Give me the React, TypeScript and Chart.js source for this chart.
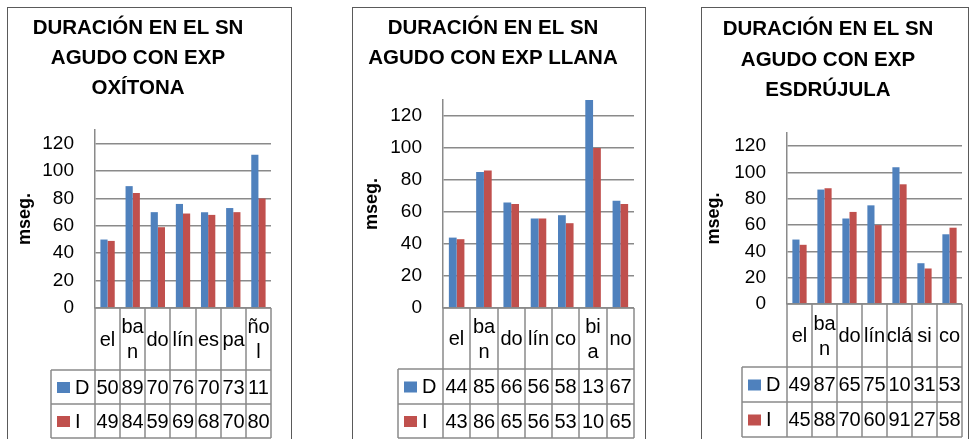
import React, { useEffect, useRef } from "react";
import { Chart, registerables } from "chart.js";
Chart.register(...registerables);

// ---------- data ----------
const seriesNames = ["D", "I"];
const seriesColors = ["#4F81BD", "#C0504D"];
const axisTitle = "mseg.";
const yMax = 130;
const yStep = 20;

const titles1 = ["DURACIÓN EN EL SN", "AGUDO CON EXP", "OXÍTONA"];
const categories1: (string | string[])[] = ["el", ["ba", "n"], "do", "lín", "es", "pa", ["ño", "l"]];
const valuesD1 = [50, 89, 70, 76, 70, 73, 112];
const valuesI1 = [49, 84, 59, 69, 68, 70, 80];

const titles2 = ["DURACIÓN EN EL SN", "AGUDO CON EXP LLANA"];
const categories2: (string | string[])[] = ["el", ["ba", "n"], "do", "lín", "co", ["bi", "a"], "no"];
const valuesD2 = [44, 85, 66, 56, 58, 130, 67];
const valuesI2 = [43, 86, 65, 56, 53, 100, 65];

const titles3 = ["DURACIÓN EN EL SN", "AGUDO CON EXP", "ESDRÚJULA"];
const categories3: (string | string[])[] = ["el", ["ba", "n"], "do", "lín", "clá", "si", "co"];
const valuesD3 = [49, 87, 65, 75, 104, 31, 53];
const valuesI3 = [45, 88, 70, 60, 91, 27, 58];

// ---------- layout (page coordinates) ----------
const FONT = "'Liberation Sans', Arial, sans-serif";
const CANVAS_TOP = 8;
const CANVAS_H = 431;

type Panel = {
  titles: string[];
  cats: (string | string[])[];
  series: number[][];
  boxL: number;
  boxR: number;
  area: { l: number; r: number; t: number; b: number };
  legendL: number;
  rows: number[];
  titleX: number;
  titleY: number[];
  yTitleX: number;
};

const panels: Panel[] = [
  {
    titles: titles1, cats: categories1, series: [valuesD1, valuesI1],
    boxL: 7, boxR: 291, area: { l: 95, r: 271, t: 130, b: 308 },
    legendL: 51, rows: [62, 34, 34], titleX: 138, titleY: [28, 58, 88], yTitleX: 25,
  },
  {
    titles: titles2, cats: categories2, series: [valuesD2, valuesI2],
    boxL: 352, boxR: 645, area: { l: 443, r: 634, t: 100, b: 308 },
    legendL: 398, rows: [61, 35, 34], titleX: 493, titleY: [28, 58], yTitleX: 372,
  },
  {
    titles: titles3, cats: categories3, series: [valuesD3, valuesI3],
    boxL: 701, boxR: 968, area: { l: 787, r: 962, t: 133, b: 304 },
    legendL: 742, rows: [63, 35, 35], titleX: 828, titleY: [29, 60, 90], yTitleX: 714,
  },
];

function fitText(ctx: CanvasRenderingContext2D, text: string, maxW: number) {
  let t = text;
  while (t.length > 1 && ctx.measureText(t).width > maxW) t = t.slice(0, -1);
  return t;
}

function PanelChart({ p }: { p: Panel }) {
  const ref = useRef<HTMLCanvasElement>(null);
  const offX = p.boxL + 1;
  const cw = p.boxR - p.boxL - 1;

  useEffect(() => {
    const canvas = ref.current!;
    const lineColor = "#8a8a8a";
    const tablePlugin = {
      id: "dataTable",
      afterDraw(chart: any) {
        const ctx: CanvasRenderingContext2D = chart.ctx;
        const xs = chart.scales.x;
        const ca = chart.chartArea;
        const n = p.cats.length;
        const colW = xs.getPixelForValue(1) - xs.getPixelForValue(0);
        const edges: number[] = [];
        for (let k = 0; k <= n; k++) edges.push(Math.round(xs.getPixelForValue(0) - colW / 2 + k * colW));
        const y0 = ca.bottom;
        const y1 = y0 + p.rows[0];
        const y2 = y1 + p.rows[1];
        const y3 = y2 + p.rows[2];
        const lx = p.legendL - offX;

        ctx.save();
        // title
        ctx.fillStyle = "#000";
        ctx.font = `bold 20.5px ${FONT}`;
        ctx.textAlign = "center";
        ctx.textBaseline = "middle";
        p.titles.forEach((t, k) => ctx.fillText(t, p.titleX - offX, p.titleY[k] - CANVAS_TOP));

        // grid lines of table
        ctx.strokeStyle = lineColor;
        ctx.lineWidth = 1.5;
        ctx.beginPath();
        edges.forEach((x) => {
          ctx.moveTo(x, y0);
          ctx.lineTo(x, y3);
        });
        ctx.moveTo(lx, y1);
        ctx.lineTo(lx, y3);
        ctx.moveTo(edges[0], y0);
        ctx.lineTo(edges[n], y0);
        [y1, y2, y3].forEach((y) => {
          ctx.moveTo(lx, y);
          ctx.lineTo(edges[n], y);
        });
        ctx.stroke();

        // category labels
        ctx.fillStyle = "#000";
        ctx.font = `20px ${FONT}`;
        ctx.textAlign = "center";
        ctx.textBaseline = "middle";
        const lh = 25;
        p.cats.forEach((c, k) => {
          const lines = Array.isArray(c) ? c : [c];
          const cx = (edges[k] + edges[k + 1]) / 2;
          const cy = (y0 + y1) / 2 + 1;
          lines.forEach((ln, j) => {
            ctx.fillText(ln, cx, cy + (j - (lines.length - 1) / 2) * lh);
          });
        });

        // value rows
        const rowsY = [[y1, y2], [y2, y3]];
        p.series.forEach((vals, s) => {
          const [ra, rb] = rowsY[s];
          const cy = (ra + rb) / 2;
          vals.forEach((v, k) => {
            const cx = (edges[k] + edges[k + 1]) / 2;
            const t = fitText(ctx, String(v), colW - 1);
            ctx.fillText(t, cx, cy + 1);
          });
          // legend key
          ctx.fillStyle = seriesColors[s];
          ctx.fillRect(lx + 6, cy - 5, 13, 11);
          ctx.fillStyle = "#000";
          ctx.textAlign = "left";
          ctx.fillText(seriesNames[s], lx + 24, cy + 1);
          ctx.textAlign = "center";
        });
        ctx.restore();
      },
    };

    const chart = new Chart(canvas, {
      type: "bar",
      data: {
        labels: p.cats as any,
        datasets: p.series.map((vals, s) => ({
          label: seriesNames[s],
          data: vals,
          backgroundColor: seriesColors[s],
          borderWidth: 0,
          categoryPercentage: 0.57,
          barPercentage: 1.0,
        })),
      },
      options: {
        animation: false,
        responsive: false,
        devicePixelRatio: 1,
        layout: {
          padding: {
            left: 0,
            top: p.area.t - CANVAS_TOP,
            right: cw - (p.area.r - offX),
            bottom: CANVAS_H - (p.area.b - CANVAS_TOP),
          },
        },
        plugins: {
          legend: { display: false },
          title: { display: false },
          tooltip: { enabled: false },
        },
        scales: {
          x: { display: false, grid: { display: false } },
          y: {
            min: 0,
            max: yMax,
            ticks: {
              stepSize: yStep,
              includeBounds: false,
              padding: 21,
              color: "#000",
              font: { family: FONT, size: 19 },
            },
            grid: { color: lineColor, lineWidth: 1.5, drawTicks: false },
            border: { color: lineColor, width: 1.5 },
            title: {
              display: true,
              text: axisTitle,
              color: "#000",
              font: { family: FONT, size: 18, weight: "bold" },
              padding: { top: Math.max(0, p.yTitleX - offX - 10.8), bottom: 0 },
            },
            afterFit: (scale: any) => {
              scale.width = p.area.l - offX;
            },
          },
        },
      } as any,
      plugins: [tablePlugin],
    });
    return () => chart.destroy();
  }, [p]);

  return (
    <div
      style={{
        position: "absolute",
        left: p.boxL,
        top: 7,
        width: p.boxR - p.boxL + 1,
        height: 440,
        boxSizing: "border-box",
        border: "1px solid #5a5a5a",
        background: "#fff",
      }}
    >
      <canvas ref={ref} width={cw} height={CANVAS_H} style={{ display: "block", width: cw, height: CANVAS_H }} />
    </div>
  );
}

export default function App() {
  return (
    <div
      style={{
        position: "absolute",
        left: 0,
        top: 0,
        width: 969,
        height: 439,
        overflow: "hidden",
        background: "#fff",
      }}
    >
      {panels.map((p, k) => (
        <PanelChart key={k} p={p} />
      ))}
    </div>
  );
}
